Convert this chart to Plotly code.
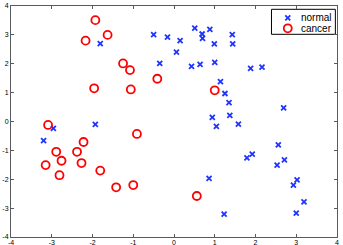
import plotly.graph_objects as go

normal_x = [-3.20, -2.96, -1.93, -1.81, -0.50, -0.16, 0.15, 0.06, -0.35, 0.51, 0.69, 0.70,
            0.88, 0.99, 0.43, 0.64, 1.00, 1.14, 1.25, 1.35, 0.94, 1.37, 1.43, 1.44, 1.88,
            2.16, 2.69, 1.58, 1.04, 2.56, 1.92, 1.79, 2.71, 2.53, 3.02, 2.93, 3.19, 3.00,
            1.23, 0.86]
normal_y = [-0.66, -0.24, -0.10, 2.70, 3.01, 2.92, 2.80, 2.40, 2.01, 3.23, 3.03, 2.88,
            3.19, 2.69, 1.91, 1.98, 2.05, 1.38, 0.97, 0.65, 0.14, 0.21, 3.01, 2.69, 1.84,
            1.88, 0.47, -0.09, -0.17, -0.81, -1.13, -1.26, -1.33, -1.51, -2.02, -2.20,
            -2.78, -3.17, -3.21, -1.97]

cancer_x = [-1.93, -1.63, -2.17, -1.96, -1.25, -1.08, -0.41, -1.06, 1.00, -0.91, -1.42,
            -1.00, 0.56, -3.09, -2.89, -2.38, -2.22, -2.76, -3.15, -2.27, -2.81, -1.81]
cancer_y = [3.51, 3.00, 2.80, 1.15, 2.01, 1.78, 1.48, 1.11, 1.08, -0.43, -2.28,
            -2.20, -2.58, -0.12, -1.05, -1.05, -0.71, -1.36, -1.51, -1.44, -1.86, -1.70]

series_names = ["normal", "cancer"]
ticks = [-4, -3, -2, -1, 0, 1, 2, 3, 4]

BLUE = "#1f35ff"
RED = "#ff0000"
normal_marker = dict(symbol="x-thin-open", size=5, color=BLUE, line=dict(width=1.8, color=BLUE))
cancer_marker = dict(symbol="circle-open", size=8, color=RED, line=dict(width=1.8, color=RED))

fig = go.Figure()
fig.add_trace(go.Scatter(x=normal_x, y=normal_y, mode="markers", name=series_names[0],
                         marker=normal_marker, showlegend=False))
fig.add_trace(go.Scatter(x=cancer_x, y=cancer_y, mode="markers", name=series_names[1],
                         marker=cancer_marker, showlegend=False))

# compact legend (box + sample markers + labels) drawn on an overlay axis
leg_x0, leg_x1, leg_y0, leg_y1 = 0.799, 0.995, 0.8775, 0.9857
sym_x, txt_x = 0.849, 0.884
row_y = [0.949, 0.9035]
fig.add_shape(type="rect", xref="paper", yref="paper", x0=leg_x0, x1=leg_x1,
              y0=leg_y0, y1=leg_y1, line=dict(color="black", width=1), fillcolor="white",
              layer="below")
fig.add_trace(go.Scatter(x=[sym_x], y=[row_y[0]], xaxis="x2", yaxis="y2", mode="markers",
                         marker=normal_marker, showlegend=False, hoverinfo="skip"))
fig.add_trace(go.Scatter(x=[sym_x], y=[row_y[1]], xaxis="x2", yaxis="y2", mode="markers",
                         marker=cancer_marker, showlegend=False, hoverinfo="skip"))
for name, yy in zip(series_names, row_y):
    fig.add_annotation(x=txt_x, y=yy, xref="paper", yref="paper", text=name,
                       showarrow=False, xanchor="left", yanchor="middle",
                       font=dict(size=10, family="Liberation Sans", color="#000"))

axis_common = dict(range=[-4, 4], tickvals=ticks, ticktext=[str(t) for t in ticks],
                   showgrid=False, zeroline=False, showline=True, linecolor="#5a5a5a",
                   linewidth=1, mirror="ticks", ticks="inside", ticklen=3,
                   tickcolor="#5a5a5a", tickfont=dict(size=7, color="#000",
                                                      family="Liberation Sans"),
                   automargin=False)

overlay = dict(range=[0, 1], visible=False, fixedrange=True)

fig.update_layout(
    width=343, height=245,
    margin=dict(l=10.5, r=6, t=6, b=8),
    paper_bgcolor="white", plot_bgcolor="white",
    xaxis=dict(**axis_common, ticklabelstandoff=-1),
    yaxis=dict(**axis_common, ticklabelstandoff=0),
    xaxis2=dict(**overlay, overlaying="x"),
    yaxis2=dict(**overlay, overlaying="y"),
    showlegend=False,
)

fig.write_html("out.html", config={"displayModeBar": False},
               post_script="document.body.style.margin='0';document.body.style.overflow='hidden';")
